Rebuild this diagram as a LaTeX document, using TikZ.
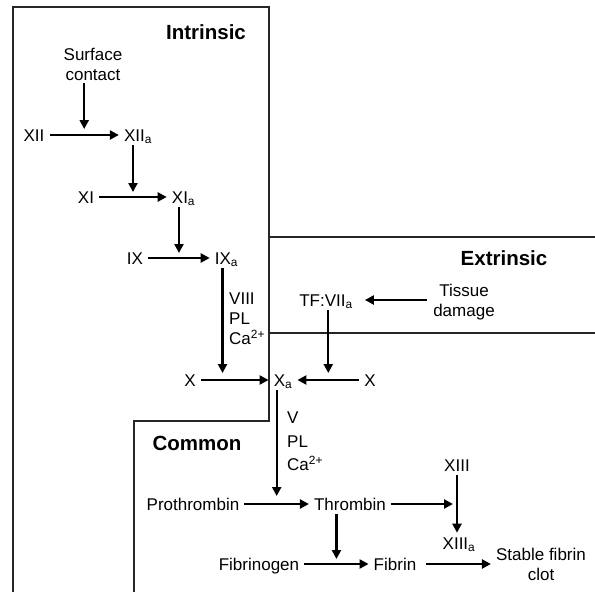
\documentclass[tikz,border=0pt]{standalone}
\usepackage{fontspec}
\setmainfont{Liberation Sans}
\usetikzlibrary{arrows.meta}
\tikzset{
	fac/.style={inner xsep=5pt, inner ysep=4pt, text height=12.2pt, text depth=0pt, font=\fontsize{17}{20}\selectfont},
	note/.style={inner sep=0pt, align=center, text depth=0pt, font=\fontsize{17}{20}\selectfont},
	cof/.style={inner sep=0pt, align=left, anchor=west, text depth=0pt, font=\fontsize{17}{20}\selectfont},
	pathname/.style={inner sep=0pt, font=\bfseries\fontsize{20.5}{24}\selectfont},
	act/.style={line width=2.3pt, -{Triangle[length=9pt,width=9pt]}},
	wall/.style={line width=1.3pt, color=black!85}
}

\begin{document}
\begin{tikzpicture}[x=1pt, y=-1pt]
	\useasboundingbox (0,0) rectangle (595,592);
	% pathway borders
	\draw[wall] (13,592) -- (13,7) -- (269,7) -- (269,421) -- (134,421) -- (134,592);
	\draw[wall] (269,237) -- (595,237);
	\draw[wall] (269,333) -- (595,333);
	\node[pathname] (intr) at (206,32) {Intrinsic};
	\node[pathname] (extr) at (504,258) {Extrinsic};
	\node[pathname] (comm) at (197,443) {Common};
	% intrinsic
	\node[note] (surf) at (93,64) {Surface\\contact};
	\node[fac] (xii) at (34,135) {XII};
	\node[fac] (xiia) at (138,135) {XII\textsubscript{a}};
	\node[fac] (xi) at (86,197) {XI};
	\node[fac] (xia) at (183.5,197) {XI\textsubscript{a}};
	\node[fac] (ix) at (135,258) {IX};
	\node[fac] (ixa) at (226.5,258) {IX\textsubscript{a}};
	\node[cof] (cofa) at (229,319) {VIII\\PL\\Ca\textsuperscript{2+}};
	\node[fac] (xl) at (190,380) {X};
	\node[fac] (xa) at (283,380) {X\textsubscript{a}};
	\draw[act] (xii) -- coordinate[midway] (m1) (xiia);
	\draw[act, shorten <=3pt, shorten >=6pt] (surf.south -| m1) -- (m1);
	\draw[act] (xi) -- coordinate[midway] (m2) (xia);
	\draw[act, shorten >=5pt] (xiia.south -| m2) -- (m2);
	\draw[act] (ix) -- coordinate[midway] (m3) (ixa);
	\draw[act, shorten >=5pt] (xia.south -| m3) -- (m3);
	\draw[act] (xl) -- coordinate[pos=.32] (m4) (xa);
	\draw[act, shorten >=7pt] (ixa.south -| m4) -- (m4);
	% extrinsic
	\node[fac] (tf) at (326,300) {TF:VII\textsubscript{a}};
	\node[note] (tis) at (464,300) {Tissue\\damage};
	\node[fac] (xr) at (370,380) {X};
	\draw[act, shorten <=6pt, shorten >=7pt] (tis) -- (tf);
	\draw[act] (xr) -- coordinate[midway] (m5) (xa);
	\draw[act, shorten >=7pt] (tf.south -| m5) -- (m5);
	% common
	\node[cof, font=\fontsize{17}{23.5}\selectfont] (cofb) at (287,441.5) {V\\PL\\Ca\textsuperscript{2+}};
	\node[fac] (pro) at (193,504) {Prothrombin};
	\node[fac] (thr) at (350,504) {Thrombin};
	\node[fac] (xiii) at (457,465) {XIII};
	\node[fac] (xiiia) at (459,543) {XIII\textsubscript{a}};
	\node[fac] (fbg) at (259,564) {Fibrinogen};
	\node[fac] (fib) at (395,564) {Fibrin};
	\node[note] (clot) at (541,564) {Stable fibrin\\clot};
	\draw[act] (pro) -- coordinate[midway] (m6) (thr);
	\draw[act, shorten >=8pt] (xa.south -| m6) -- (m6);
	\draw[act] (xiii.south) -- coordinate[midway] (m7) (xiii.south |- xiiia.north);
	\draw[act, shorten >=4pt] (thr) -- (m7);
	\draw[act] (fbg) -- coordinate[midway] (m8) (fib);
	\draw[act, shorten >=5pt] (thr.south -| m8) -- (m8);
	\draw[act, shorten <=5pt, shorten >=5pt] (fib) -- (clot);
\end{tikzpicture}
\end{document}
